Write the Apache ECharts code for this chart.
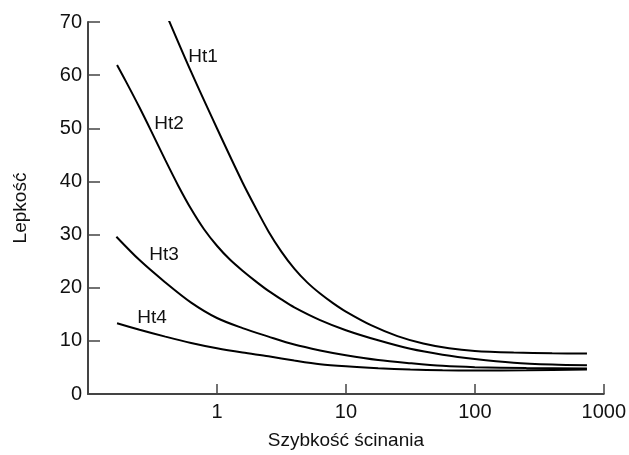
<!DOCTYPE html>
<html>
<head>
<meta charset="utf-8">
<script src="https://cdn.jsdelivr.net/npm/echarts@6/dist/echarts.min.js"></script>
<style>
  html, body { margin: 0; padding: 0; background: #fff; }
</style>
</head>
<body>
<div id="chart" style="width: 629px; height: 455px"></div>
<script>
// szybkość ścinania (oś logarytmiczna) i lepkość dla czterech próbek
const ht1 = [[0.417, 70.7], [0.631, 60.6], [1, 50.0], [1.58, 39.8], [2.0, 35.0], [2.51, 30.6], [3.16, 26.8], [3.98, 23.6], [5.01, 21.0], [6.31, 18.9], [7.94, 17.1], [10, 15.5], [15.8, 12.9], [25.1, 10.9], [39.8, 9.5], [63.1, 8.6], [100, 8.1], [200, 7.8], [398, 7.65], [741, 7.6]];
const ht2 = [[0.168, 61.9], [0.2, 58.5], [0.251, 53.9], [0.316, 49.0], [0.398, 44.0], [0.501, 39.2], [0.631, 34.8], [0.794, 31.0], [1, 27.9], [1.26, 25.3], [1.58, 23.2], [2.0, 21.2], [2.51, 19.4], [3.16, 17.8], [3.98, 16.3], [6.31, 13.9], [10, 12.0], [17.8, 10.1], [31.6, 8.5], [56.2, 7.4], [100, 6.6], [200, 5.9], [398, 5.55], [741, 5.4]];
const ht3 = [[0.166, 29.6], [0.251, 25.2], [0.398, 21.0], [0.631, 17.2], [1, 14.3], [1.58, 12.4], [2.51, 10.8], [3.98, 9.3], [6.31, 8.2], [10, 7.3], [17.8, 6.4], [31.6, 5.8], [56.2, 5.3], [100, 5.05], [251, 4.9], [741, 4.8]];
const ht4 = [[0.168, 13.3], [0.251, 12.1], [0.398, 10.8], [0.631, 9.6], [1, 8.6], [1.58, 7.8], [2.51, 7.1], [3.98, 6.3], [6.31, 5.6], [10, 5.2], [17.8, 4.85], [31.6, 4.6], [56.2, 4.45], [100, 4.4], [251, 4.45], [741, 4.6]];
const seriesNames = ["Ht1", "Ht2", "Ht3", "Ht4"];
const labelPoints = [[0.78, 63.4], [0.425, 50.8], [0.389, 26.2], [0.314, 14.4]];

const font = "'Liberation Sans', Arial, sans-serif";
const chart = echarts.init(document.getElementById("chart"));

const allData = [ht1, ht2, ht3, ht4];
const series = allData.map((d, i) => ({
  name: seriesNames[i],
  type: "line",
  data: d,
  smooth: 0.3,
  symbol: "none",
  lineStyle: { color: "#000", width: 2 },
  markPoint: {
    symbol: "circle",
    symbolSize: 0,
    data: [{ coord: labelPoints[i] }],
    label: {
      show: true,
      formatter: seriesNames[i],
      position: "inside",
      color: "#111",
      fontFamily: font,
      fontSize: 19,
    },
  },
}));

chart.setOption({
  animation: false,
  grid: { left: 88, right: 23, top: 22, bottom: 61 },
  xAxis: {
    type: "log",
    logBase: 10,
    min: 0.1,
    max: 1000,
    name: "Szybkość ścinania",
    nameLocation: "middle",
    nameGap: 37,
    nameTextStyle: { color: "#111", fontFamily: font, fontSize: 19 },
    axisLine: { lineStyle: { color: "#444", width: 2 } },
    axisTick: { inside: true, length: 10, lineStyle: { color: "#444", width: 1.5 } },
    axisLabel: {
      color: "#111",
      fontFamily: font,
      fontSize: 20,
      margin: 8,
      formatter: (v) => (v < 1 ? "" : String(Math.round(v))),
    },
    splitLine: { show: false },
    minorTick: { show: false },
  },
  yAxis: {
    type: "value",
    min: 0,
    max: 70,
    interval: 10,
    name: "Lepkość",
    nameLocation: "middle",
    nameGap: 58,
    nameTextStyle: { color: "#111", fontFamily: font, fontSize: 19 },
    axisLine: { show: true, lineStyle: { color: "#444", width: 2 } },
    axisTick: { show: true, inside: true, length: 12, lineStyle: { color: "#444", width: 1.5 } },
    axisLabel: { color: "#111", fontFamily: font, fontSize: 20, margin: 6 },
    splitLine: { show: false },
  },
  series: series,
});
</script>
</body>
</html>
